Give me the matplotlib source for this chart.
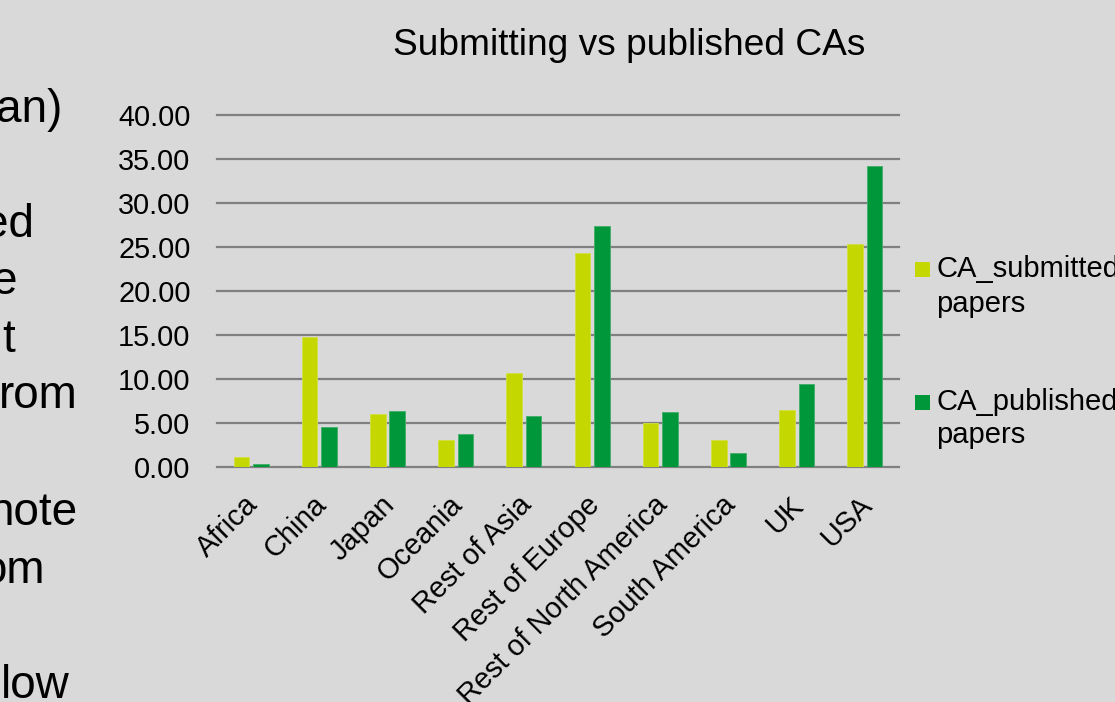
import matplotlib
matplotlib.use("Agg")
import matplotlib.pyplot as plt
import matplotlib.transforms as mtransforms
from matplotlib.patches import Rectangle
import numpy as np

plt.rcParams['font.family'] = ['Liberation Sans', 'DejaVu Sans']

# ---- data ----
categories = ["Africa", "China", "Japan", "Oceania", "Rest of Asia", "Rest of Europe",
              "Rest of North America", "South America", "UK", "USA"]
ca_submitted = [1.10, 14.75, 6.00, 3.10, 10.65, 24.25, 5.02, 3.02, 6.46, 25.30]
ca_published = [0.34, 4.57, 6.35, 3.70, 5.78, 27.40, 6.23, 1.55, 9.48, 34.20]
series_names = ["CA_submitted", "CA_published"]
legend_second_line = "papers"
yticks = [0, 5, 10, 15, 20, 25, 30, 35, 40]
title = "Submitting vs published CAs"
side_fragments = ["an)", "ed", "e", "t", "rom", "note", "om", "low"]

# ---- styling ----
W, H = 1115, 702
bg = "#D9D9D9"
col_sub = "#C5D700"
col_pub = "#00963A"
grid_col = "#808080"

fig = plt.figure(figsize=(W / 100, H / 100), dpi=100, facecolor=bg)
ax = fig.add_axes([217 / W, 1 - 467 / H, (899 - 217) / W, (467 - 114.7) / H])
ax.set_facecolor(bg)

x = np.arange(len(categories))
bw = 0.23
off = 0.143
ax.bar(x - off, ca_submitted, width=bw, color=col_sub, edgecolor="#D3E040", linewidth=0.6, zorder=3)
ax.bar(x + off, ca_published, width=bw, color=col_pub, edgecolor="#3FAE66", linewidth=0.6, zorder=3)

ax.set_xlim(-0.5, len(categories) - 0.5)
ax.set_ylim(0, 40)
ax.set_yticks(yticks)
ax.set_yticklabels([f"{v:.2f}" for v in yticks])
ax.yaxis.grid(True, color=grid_col, linewidth=1.6, zorder=0)
ax.set_axisbelow(True)
for gl in ax.get_ygridlines():
    gl.set_clip_on(False)
for s in ax.spines.values():
    s.set_visible(False)
ax.tick_params(axis='y', length=0, pad=19, labelsize=20.8, labelcolor="black")
ax.tick_params(axis='x', length=0, pad=17, labelsize=20.8, labelcolor="black")

ax.set_xticks(x)
ax.set_xticklabels(categories, rotation=45, ha='right', va='top', rotation_mode='anchor')
shift = mtransforms.ScaledTranslation(-7 / 100, 0, fig.dpi_scale_trans)
for lbl in ax.get_xticklabels():
    lbl.set_transform(lbl.get_transform() + shift)

# title
fig.text(629 / W, 1 - 55 / H, title, ha='center', va='baseline', fontsize=26.7, color="black")

# legend (manual, clipped at figure edge like the reference)
leg_rows = [(262, 277, 312, col_sub, series_names[0]),
            (395, 410, 443, col_pub, series_names[1])]
for top, base1, base2, c, name in leg_rows:
    fig.patches.append(Rectangle((915 / W, 1 - (top + 15) / H), 15 / W, 15 / H,
                                 transform=fig.transFigure, facecolor=c, edgecolor='none'))
    fig.text(936 / W, 1 - base1 / H, name, ha='left', va='baseline', fontsize=21, color="black")
    fig.text(936 / W, 1 - base2 / H, legend_second_line, ha='left', va='baseline', fontsize=21, color="black")

# clipped slide text on the left
frag_pos = [(62, 122), (34, 237), (18, 294), (15, 352), (78, 408), (77, 525), (45, 583), (70, 698)]
for txt, (rx, by) in zip(side_fragments, frag_pos):
    fig.text(rx / W, 1 - by / H, txt, ha='right', va='baseline', fontsize=33, color="black")

fig.savefig("out.png", dpi=100, facecolor=bg)
